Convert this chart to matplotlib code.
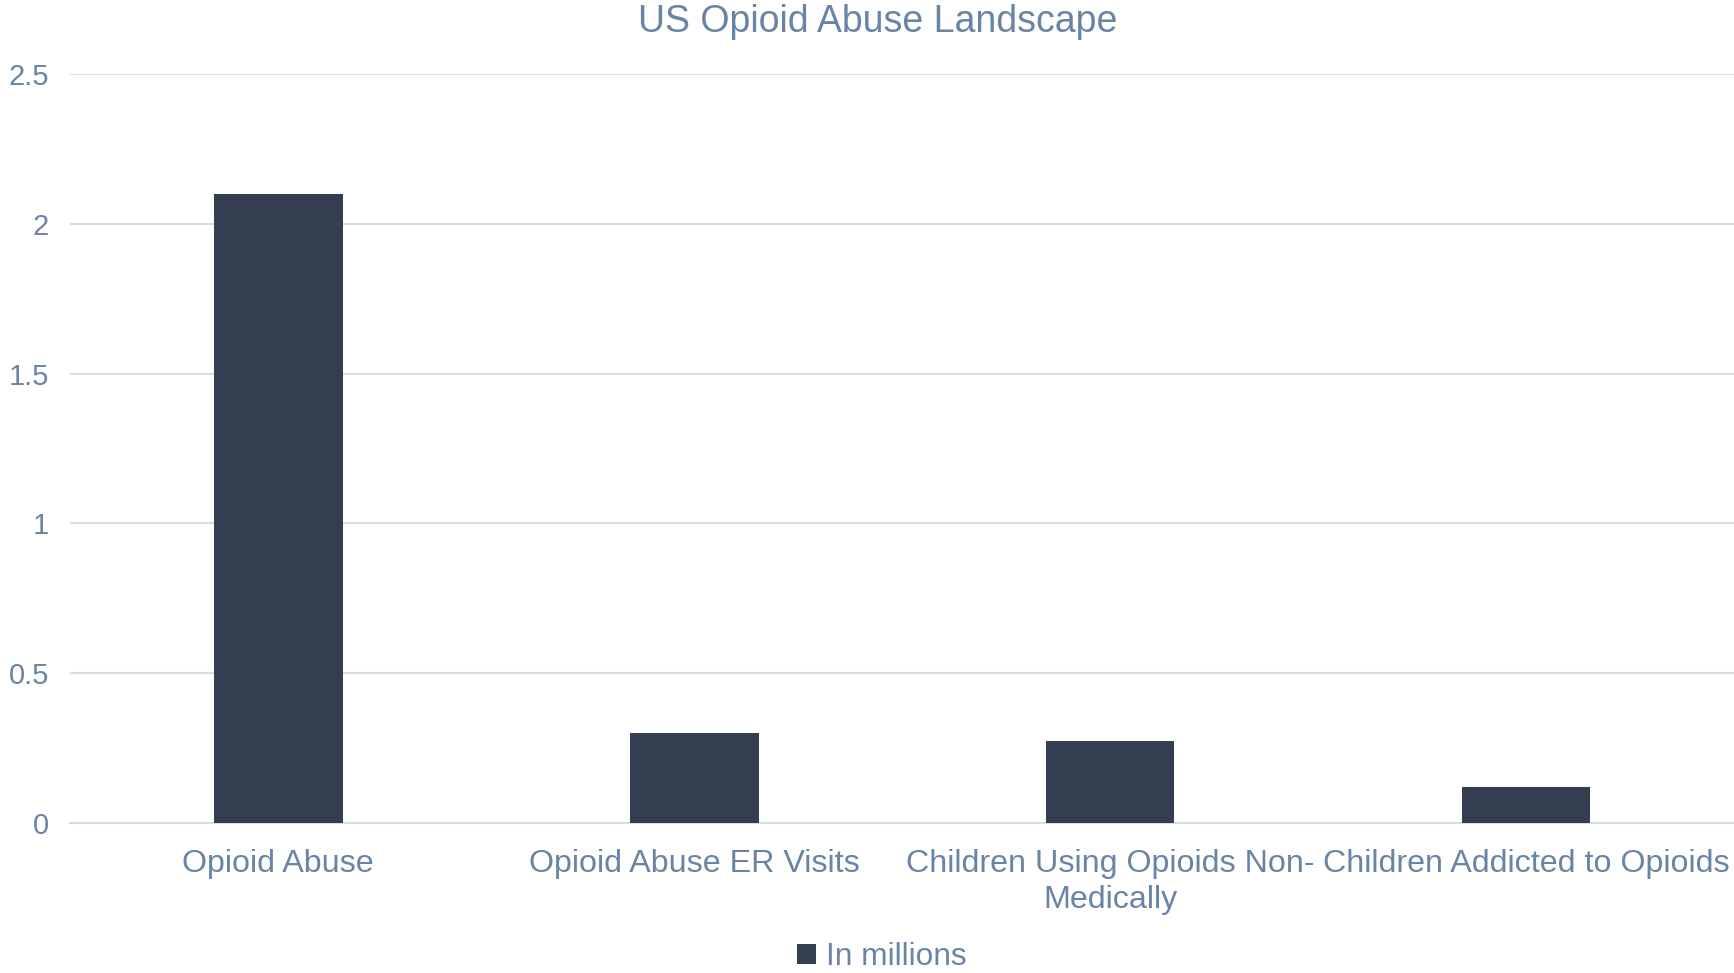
import matplotlib.pyplot as plt
import numpy as np

plt.rcParams['font.family'] = ['Liberation Sans', 'DejaVu Sans']

# data
categories = ['Opioid Abuse', 'Opioid Abuse ER Visits',
              'Children Using Opioids Non-\nMedically', 'Children Addicted to Opioids']
values = [2.1, 0.3, 0.275, 0.12]
series_name = 'In millions'
yticks = [0, 0.5, 1, 1.5, 2, 2.5]
ytick_labels = ['0', '0.5', '1', '1.5', '2', '2.5']

bar_color = '#333F50'
text_color = '#6A84A6'
grid_color = '#D9DCE6'

fig = plt.figure(figsize=(17.34, 9.73), dpi=100)
ax = fig.add_axes([0.0404, 0.1542, 0.9596, 0.7698])

x = np.arange(len(categories))
ax.bar(x, values, width=0.31, color=bar_color, label=series_name, zorder=3)

ax.set_xlim(-0.5, len(categories) - 0.5)
ax.set_ylim(0, 2.5)
ax.set_yticks(yticks)
ax.set_yticklabels(ytick_labels)
ax.set_xticks(x)
ax.set_xticklabels(categories, linespacing=1.28)

ax.grid(axis='y', color=grid_color, linewidth=1.5, zorder=0)
for s in ['top', 'right', 'left']:
    ax.spines[s].set_visible(False)
ax.spines['bottom'].set_color(grid_color)
ax.spines['bottom'].set_linewidth(1.5)
ax.tick_params(axis='both', length=0, colors=text_color)
ax.tick_params(axis='y', pad=15, labelsize=21)
ax.tick_params(axis='x', pad=18.5, labelsize=23.2)

fig.text(0.506, 0.977, 'US Opioid Abuse Landscape', ha='center', va='center',
         fontsize=27, color=text_color)

leg = fig.legend(loc='center', bbox_to_anchor=(882 / 1734, 1 - 957 / 973), frameon=False,
                 fontsize=22.8, handlelength=0.6, handleheight=0.6, handletextpad=0.3,
                 borderpad=0.1)
for t in leg.get_texts():
    t.set_color(text_color)

fig.savefig('out.png', dpi=100)
